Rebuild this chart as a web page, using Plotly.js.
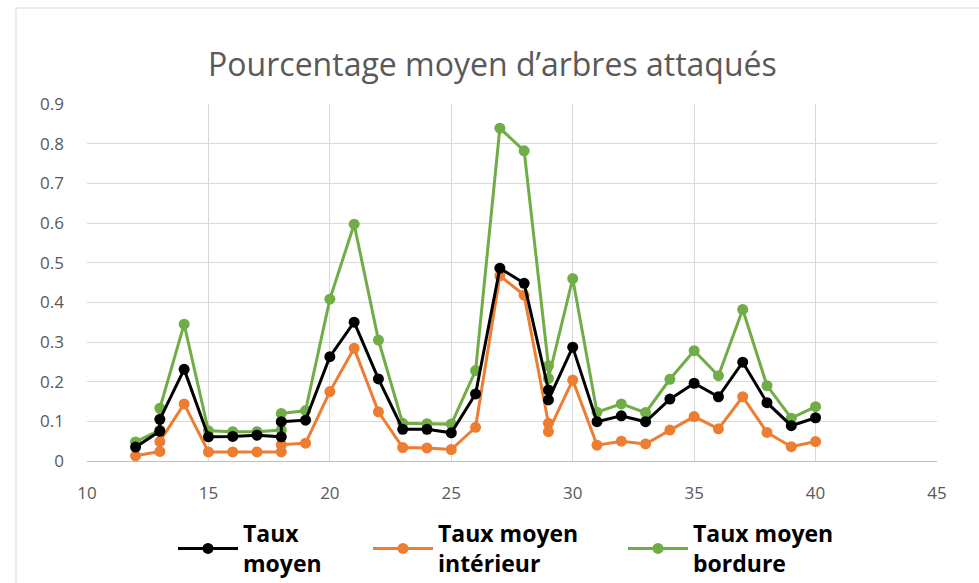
<!DOCTYPE html>
<html><head><meta charset="utf-8">
<script src="https://cdn.plot.ly/plotly-3.0.1.min.js"></script>
<style>html,body{margin:0;padding:0;background:#fff}#chart{width:979px;height:583px}</style>
</head><body><div id="chart"></div>
<script>
const xVals = [12,13,13,14,15,16,17,18,18,19,20,21,22,23,24,25,26,27,28,29,29,30,31,32,33,34,35,36,37,38,39,40];
const tauxMoyen = [0.035,0.075,0.105,0.231,0.061,0.062,0.065,0.061,0.099,0.103,0.263,0.350,0.207,0.080,0.080,0.071,0.169,0.486,0.448,0.179,0.154,0.287,0.099,0.114,0.099,0.156,0.196,0.162,0.249,0.147,0.089,0.109];
const tauxInterieur = [0.013,0.024,0.049,0.144,0.023,0.023,0.023,0.023,0.041,0.045,0.175,0.284,0.124,0.034,0.033,0.029,0.085,0.467,0.418,0.095,0.074,0.204,0.040,0.050,0.043,0.078,0.112,0.081,0.162,0.072,0.036,0.049];
const tauxBordure = [0.048,0.078,0.133,0.345,0.076,0.074,0.074,0.078,0.120,0.127,0.408,0.597,0.305,0.095,0.094,0.093,0.228,0.839,0.782,0.240,0.208,0.460,0.123,0.144,0.122,0.206,0.278,0.215,0.382,0.190,0.108,0.137];
const seriesNames = ["Taux<br>moyen","Taux moyen<br>intérieur","Taux moyen<br>bordure"];
const seriesColors = ["#000000","#ED7D31","#70AD47"];
const xTicks = [10,15,20,25,30,35,40,45];
const yTicks = [0,0.1,0.2,0.3,0.4,0.5,0.6,0.7,0.8,0.9];

const ys = [tauxMoyen, tauxInterieur, tauxBordure];
const legends = ["legend","legend2","legend3"];
const traces = ys.map((y,i)=>({
  x: xVals, y: y, type: "scatter", mode: "lines+markers", name: seriesNames[i],
  legend: legends[i],
  line: {color: seriesColors[i], width: 3},
  marker: {color: seriesColors[i], size: 11},
  cliponaxis: false
}));
const ordered = [traces[2], traces[1], traces[0]];

const legFont = {family: "'Open Sans', sans-serif", size: 23, weight: "bold", color: "#000"};
function leg(xpx){ return {x: xpx/979, xref: "container", y: 1 - 512/583, yref: "container", xanchor:"left", yanchor:"top", orientation:"h",
  font: legFont, bgcolor:"rgba(0,0,0,0)", itemwidth: 60}; }

const tickFont = {family: "'Open Sans', sans-serif", size: 17, color: "#595959"};
const layout = {
  width: 979, height: 583,
  margin: {l: 87, r: 42, t: 104, b: 122},
  paper_bgcolor: "#fff", plot_bgcolor: "#fff",
  title: {text: "Pourcentage moyen d’arbres attaqués", x: 0.503, xanchor: "center", y: 0.888, yanchor: "middle",
    font: {family: "'Open Sans', sans-serif", size: 32, color: "#595959"}},
  xaxis: {range: [10,45], tickvals: xTicks, ticktext: xTicks.map(String), showgrid: true, gridcolor: "#d9d9d9", gridwidth: 1,
    zeroline: false, showline: false, ticks: "", ticklabelstandoff: 20, automargin: false,
    tickfont: tickFont, fixedrange: true},
  yaxis: {range: [0,0.9], tickvals: yTicks, ticktext: yTicks.map(v=>String(v)), showgrid: true, gridcolor: "#d9d9d9", gridwidth: 1,
    zeroline: true, zerolinecolor: "#bfbfbf", zerolinewidth: 1, showline: false, ticks: "", ticklabelstandoff: 22, automargin: false,
    tickfont: tickFont, fixedrange: true},
  showlegend: true,
  legend: leg(173),
  legend2: leg(368),
  legend3: leg(623),
  shapes: [{type: "rect", xref: "paper", yref: "paper", x0: (16-87)/850, x1: 1.2, y0: -0.5, y1: (461-8)/357,
    line: {color: "#d9d9d9", width: 1}, fillcolor: "rgba(0,0,0,0)", layer: "below"}]
};
Plotly.newPlot("chart", ordered, layout, {displayModeBar: false, staticPlot: true});
</script></body></html>
